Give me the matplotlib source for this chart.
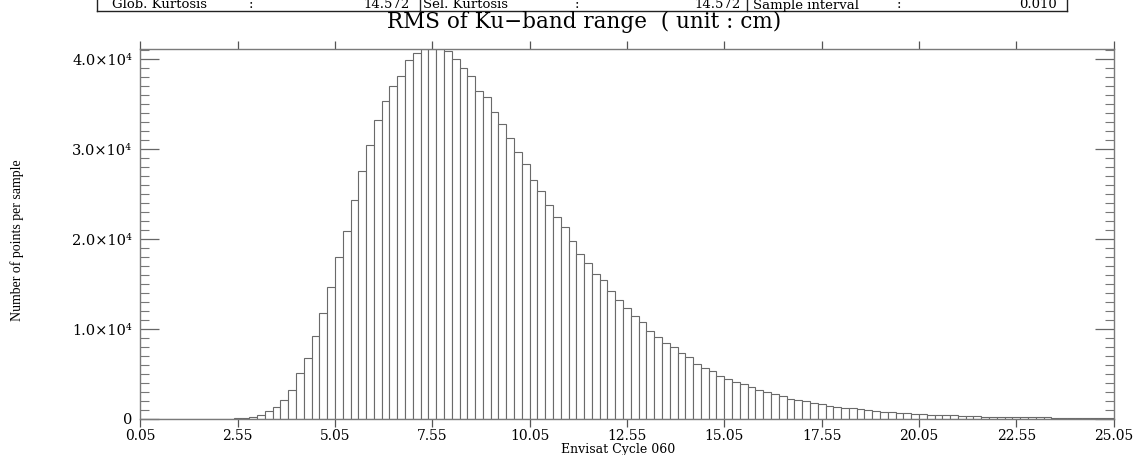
import numpy as np
import matplotlib
matplotlib.use("Agg")
import matplotlib.pyplot as plt
from matplotlib.ticker import FixedLocator, MultipleLocator

# ---------------- data ----------------
bin_start = 0.05
bin_width = 0.2
counts = [
    0, 0, 0, 0, 0, 0, 0, 0, 0, 0,
    20, 40, 80, 150, 260, 450, 850, 1370, 2150, 3260,
    5080, 6750, 9230, 11830, 14650, 17990, 20950, 24360, 27620, 30440,
    33220, 35410, 37000, 38150, 39930, 40750, 41150, 41150, 41150, 40950,
    40080, 39080, 38150, 36490, 35780, 34150, 32780, 31220, 29660, 28330,
    26570, 25330, 23770, 22500, 21320, 19760, 18320, 17320, 16130, 15460,
    14200, 13240, 12310, 11420, 10790, 9830, 9080, 8490, 7970, 7300,
    6860, 6120, 5670, 5380, 4820, 4490, 4150, 3930, 3520, 3260,
    2970, 2740, 2520, 2220, 2080, 1970, 1740, 1630, 1410, 1300,
    1190, 1180, 1080, 970, 890, 810, 740, 670, 630, 600,
    520, 480, 440, 410, 390, 340, 320, 290, 270, 250,
    240, 220, 210, 230, 190, 180, 170, 160, 150, 140,
    130, 120, 150, 110, 100,
]
x_ticks = [0.05, 2.55, 5.05, 7.55, 10.05, 12.55, 15.05, 17.55, 20.05, 22.55, 25.05]
y_ticks = [0, 10000, 20000, 30000, 40000]
y_tick_labels = ["0", "1.0×10⁴", "2.0×10⁴", "3.0×10⁴", "4.0×10⁴"]
table_cells = [
    ("Glob. Kurtosis", ":", "14.572"),
    ("Sel. Kurtosis", ":", "14.572"),
    ("Sample interval", ":", "0.010"),
]
title = "RMS of Ku−band range  ( unit : cm)"
xlabel = "Envisat Cycle 060"
ylabel = "Number of points per sample"

# ---------------- figure ----------------
W, H = 1137, 455
fig = plt.figure(figsize=(W / 100, H / 100), dpi=100)
serif = ["DejaVu Serif"]
times = ["Liberation Serif"]

def fx(px):
    return px / W

def fy(py):
    return 1 - py / H

ax_left, ax_right, ax_top, ax_bot = 140.3, 1113.6, 49, 419
ax = fig.add_axes([fx(ax_left), fy(ax_bot), fx(ax_right - ax_left), (ax_bot - ax_top) / H])

edges = bin_start + bin_width * np.arange(len(counts))
ax.bar(edges, counts, width=bin_width, align="edge", color="white",
       edgecolor="#6a6a6a", linewidth=0.8)

ax.set_xlim(0.05, 25.05)
ax.set_ylim(0, 41150)

frame_col = "#7a7a7a"
for s in ax.spines.values():
    s.set_color(frame_col)
    s.set_linewidth(1.0)

ax.xaxis.set_major_locator(FixedLocator(x_ticks))
ax.set_xticklabels([f"{v:.2f}" for v in x_ticks], family=serif, fontsize=10)
ax.tick_params(axis="x", which="major", direction="out", length=5.5, width=0.9,
               color="#555555", top=True, bottom=True, labeltop=False, pad=2)

ax.yaxis.set_major_locator(FixedLocator(y_ticks))
ax.yaxis.set_minor_locator(MultipleLocator(1000))
ax.set_yticklabels(y_tick_labels, family=serif, fontsize=10.5)
ax.tick_params(axis="y", which="major", direction="in", length=14, width=0.9,
               color="#666666", left=True, right=True, pad=6)
ax.tick_params(axis="y", which="minor", direction="in", length=6.5, width=0.8,
               color="#777777", left=True, right=True)

# axis labels
fig.text(fx(618), fy(453), xlabel, family=serif, fontsize=9,
         ha="center", va="baseline")
fig.text(fx(17), fy(240), ylabel, family=times, fontsize=10,
         rotation=90, ha="center", va="center")

# title
fig.text(fx(584), fy(28), title, family=serif, fontsize=15.5,
         ha="center", va="baseline")

# header table row (cut at the top edge)
tab_x = [97, 420, 746.7, 1066.7]
tab_bottom = 10.5
line_kw = dict(color="#222222", linewidth=1.0, transform=fig.transFigure)
fig.add_artist(plt.Line2D([fx(tab_x[0]), fx(tab_x[-1])], [fy(tab_bottom)] * 2, **line_kw))
for xv in tab_x:
    fig.add_artist(plt.Line2D([fx(xv)] * 2, [fy(tab_bottom), 1.0], **line_kw))

label_x = [111.7, 423, 753]
colon_x = [249, 575, 897]
value_right = [410, 740.7, 1056.7]
for (lab, colon, val), lx, cx, vx in zip(table_cells, label_x, colon_x, value_right):
    fig.text(fx(lx), fy(8.5), lab, family=serif, fontsize=9.5, ha="left", va="baseline")
    fig.text(fx(cx), fy(8.5), colon, family=serif, fontsize=9.5, ha="left", va="baseline")
    fig.text(fx(vx), fy(8.5), val, family=serif, fontsize=9.5, ha="right", va="baseline")

fig.savefig("out.png", dpi=100)
